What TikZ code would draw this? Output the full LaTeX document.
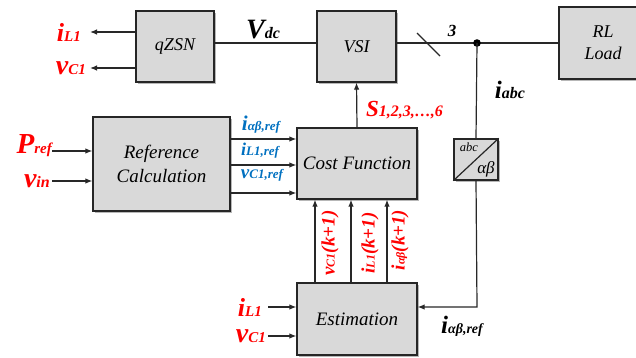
\documentclass[tikz,border=0pt]{standalone}
\usepackage{fontspec}
\setmainfont{Liberation Serif}
\usetikzlibrary{arrows.meta,shadows}
\definecolor{boxfill}{RGB}{217,217,217}
\definecolor{lblred}{RGB}{255,0,0}
\definecolor{lblblue}{RGB}{0,112,192}
\definecolor{linec}{RGB}{40,40,40}
\newcommand{\lbl}[4]{{\fontsize{#1}{#1}\selectfont\bfseries\itshape #2}{\fontsize{#3}{#3}\selectfont\bfseries\itshape #4}}
\newcommand{\plain}[2]{{\fontsize{#1}{#1}\selectfont\bfseries\itshape #2}}
\begin{document}
\begin{tikzpicture}[x=1pt,y=-1pt,
  blk/.style={draw=black!85, line width=1.3pt, fill=boxfill,
    drop shadow={shadow xshift=2pt,shadow yshift=-2pt,opacity=0.4,fill=black!70},
    inner sep=0pt, align=center, font=\fontsize{18}{21}\selectfont\itshape},
  conn/.style={draw=linec, line width=1.2pt},
  arr/.style={conn, -{Latex[length=7pt,width=5.5pt]}},
  redlbl/.style={text=lblred, inner sep=0pt},
  bluelbl/.style={text=lblblue, inner sep=0pt},
  blklbl/.style={text=black, inner sep=0pt}
]
\useasboundingbox (0,0) rectangle (636,358);
\clip (0,0) rectangle (636,358);

% blocks
\node[blk, minimum width=78pt, minimum height=71pt] (qzsn) at (175,46.5) {qZSN};
\node[blk, minimum width=79pt, minimum height=71pt] (vsi) at (356.5,46.5) {VSI};
\node[blk, minimum width=88pt, minimum height=72pt, font=\fontsize{18}{22}\selectfont\itshape] (rl) at (603,43) {RL\\Load};
\node[blk, minimum width=137pt, minimum height=94pt, font=\fontsize{19}{24}\selectfont\itshape] (ref) at (161.5,164) {Reference\\Calculation};
\node[blk, minimum width=120pt, minimum height=71pt, font=\fontsize{19}{22}\selectfont\itshape] (cost) at (357,163.5) {Cost Function};
\node[blk, minimum width=44pt, minimum height=41pt] (abc) at (476,159.5) {};
\node[blk, minimum width=120pt, minimum height=72pt, font=\fontsize{19}{22}\selectfont\itshape] (est) at (357,319) {Estimation};

% abc/alpha-beta converter
\draw[line width=1.2pt, black!85] (abc.south west) -- (abc.north east);
\node[blklbl, font=\fontsize{12.5}{12.5}\selectfont\itshape] (abct) at (469,147) {abc};
\node[blklbl, font=\fontsize{17}{17}\selectfont\itshape] (abt) at (486,169) {αβ};

% bus
\coordinate (bus) at (477,43);
\coordinate (corner) at (477,307);
\draw[conn] (qzsn.east |- bus) -- (vsi.west |- bus);
\draw[conn] (vsi.east |- bus) -- (bus) -- (rl.west |- bus);
\coordinate (s1) at (417,33);
\coordinate (s2) at (440,56);
\draw[conn] (s1) -- (s2);
\node[blklbl] (three) at (452,31) {\plain{17}{3}};
\fill[black] (bus) circle (3.8pt);
\draw[conn] (bus) -- (abc.north);
\draw[arr] (abc.south) -- (corner) -- (est.east |- corner);

% qZSN outputs
\coordinate (o1) at (90,32);
\coordinate (o2) at (90,68);
\draw[arr] (qzsn.west |- o1) -- (o1);
\draw[arr] (qzsn.west |- o2) -- (o2);
\node[redlbl, anchor=east] (il1a) at (81,32) {\lbl{26}{i}{15}{L1}};
\node[redlbl, anchor=east] (vc1a) at (86,68) {\lbl{28}{v}{15}{C1}};
\node[blklbl] (vdc) at (263,30) {\lbl{28}{V}{16}{dc}};

% S signals
\draw[arr] (cost.north) -- (vsi.south);
\node[redlbl, anchor=west] (sig) at (366,110) {\lbl{23}{S}{16}{1,2,3,…,6}};
\node[blklbl] (iabc) at (510,90) {\lbl{25}{i}{16}{abc}};

% reference calculation inputs
\coordinate (pin) at (52,151);
\coordinate (vinp) at (52,181);
\draw[arr] (pin) -- (ref.west |- pin);
\draw[arr] (vinp) -- (ref.west |- vinp);
\node[redlbl, anchor=east] (pref) at (52,146) {\lbl{29}{P}{15}{ref}};
\node[redlbl, anchor=east] (vin) at (50,181) {\lbl{28}{v}{16}{in}};

% reference outputs
\coordinate (r1) at (230,139);
\coordinate (r2) at (230,165);
\coordinate (r3) at (230,193);
\draw[arr] (r1) -- (cost.west |- r1);
\draw[arr] (r2) -- (cost.west |- r2);
\draw[arr] (r3) -- (cost.west |- r3);
\node[bluelbl] (iabref) at (261,125) {\lbl{21}{i}{13}{αβ,ref}};
\node[bluelbl] (il1ref) at (260,151) {\lbl{18}{i}{13}{L1,ref}};
\node[bluelbl] (vc1ref) at (262,175) {\lbl{19}{v}{13}{C1,ref}};

% estimation outputs
\draw[arr] (est.north -| 315,0) -- (cost.south -| 315,0);
\draw[arr] (est.north -| 351,0) -- (cost.south -| 351,0);
\draw[arr] (est.north -| 387,0) -- (cost.south -| 387,0);
\node[redlbl, rotate=90] (vk) at (330,243) {\lbl{19}{v}{12}{C1}\plain{19}{(k+1)}};
\node[redlbl, rotate=90] (ik) at (370,243) {\lbl{19}{i}{12}{L1}\plain{19}{(k+1)}};
\node[redlbl, rotate=90] (abk) at (400,240) {\lbl{19}{i}{12}{αβ}\plain{19}{(k+1)}};

% estimation inputs
\coordinate (e1) at (268,307);
\coordinate (e2) at (268,336);
\draw[arr] (e1) -- (est.west |- e1);
\draw[arr] (e2) -- (est.west |- e2);
\node[redlbl, anchor=east] (il1b) at (262,307) {\lbl{26}{i}{15}{L1}};
\node[redlbl, anchor=east] (vc1b) at (266,336) {\lbl{28}{v}{15}{C1}};
\node[blklbl] (iabrefb) at (462,326) {\lbl{25}{i}{14}{αβ,ref}};
\end{tikzpicture}
\end{document}
